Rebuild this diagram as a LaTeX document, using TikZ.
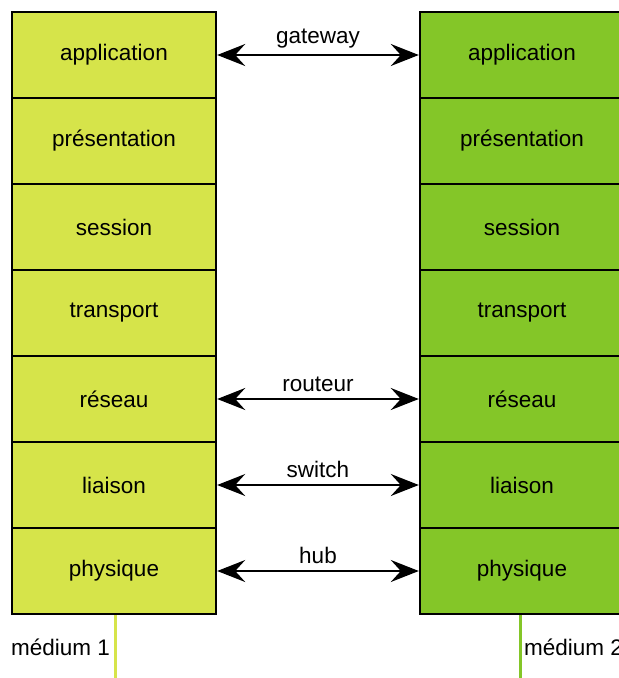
\documentclass[tikz,border=0pt]{standalone}
\usepackage{fontspec}
\setmainfont{Liberation Sans}
\usetikzlibrary{arrows.meta}
\definecolor{hostA}{RGB}{214,228,74}
\definecolor{hostB}{RGB}{132,198,40}
\begin{document}
\begin{tikzpicture}[x=1pt,y=-1pt,
  txt/.style={font=\fontsize{22.5}{26}\selectfont},
  layer/.style={txt,draw=black,line width=2.4pt,minimum width=204pt,minimum height=86pt,inner sep=0pt},
  layerA/.style={layer,fill=hostA},
  layerB/.style={layer,fill=hostB},
  tip/.style={Stealth[length=28pt,width=22pt,inset=10pt]},
  link/.style={{Stealth[length=28pt,width=22pt,inset=10pt]}-{Stealth[length=28pt,width=22pt,inset=10pt]},line width=1.6pt},
  linklbl/.style={txt,anchor=south,inner sep=6pt},
  medlbl/.style={txt,anchor=west,inner sep=0pt}]
\useasboundingbox (0,0) rectangle (619,678);
\clip (0,0) rectangle (619,678);
% the two protocol stacks
\foreach \i/\t in {1/application,2/présentation,3/session,4/transport,5/réseau,6/liaison,7/physique}{
  \node[layerA] (L\i) at (114,{12+86*(\i-1)+43}) {\t};
  \node[layerB] (R\i) at (522,{12+86*(\i-1)+43}) {\t};
}
% interconnection devices
\draw[link,line width=2pt] (L1.east) -- node[linklbl,above]{gateway} (R1.west);
\draw[link,line width=2.4pt] (L5.east) -- node[linklbl,above]{routeur} (R5.west);
\draw[link] (L6.east) -- node[linklbl,above]{switch} (R6.west);
\draw[link] (L7.east) -- node[linklbl,above]{hub} (R7.west);
% physical media
\coordinate (m1) at (115,678);
\coordinate (m2) at (520,678);
\draw[hostA,line width=3pt] (L7.south -| m1) -- (m1);
\draw[hostB,line width=3pt] (L7.south -| m2) -- (m2);
\node[medlbl] (t1) at (11,647) {médium 1};
\node[medlbl] (t2) at (524,647) {médium 2};
\end{tikzpicture}
\end{document}
